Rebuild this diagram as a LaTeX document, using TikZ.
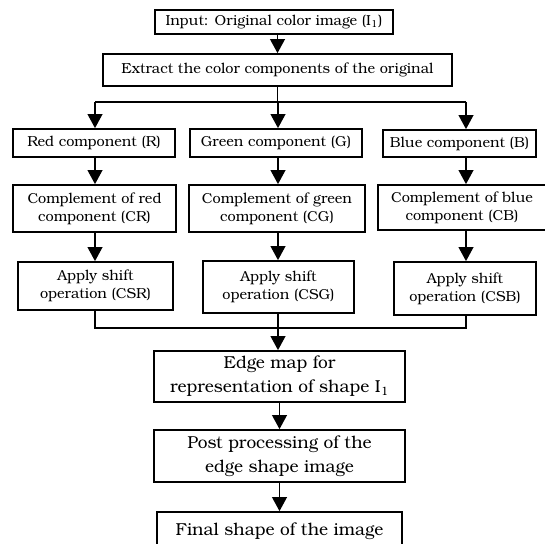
\documentclass[tikz,border=0pt]{standalone}
\usepackage{fontspec}
\setmainfont{TeX Gyre Bonum}
\usetikzlibrary{arrows.meta}

\newdimen\unitpx
\unitpx=0.025cm

\tikzset{
  box/.style={draw, line width=1.2pt, align=center, inner sep=0pt, font=\fontsize{10.3}{13}\selectfont},
  bigbox/.style={box, font=\fontsize{12.3}{17}\selectfont},
  line/.style={line width=1.2pt},
  arr/.style={line width=1.2pt, -{Triangle[width=10.5pt,length=10pt]}}
}

\begin{document}
\begin{tikzpicture}[x=0.025cm, y=-0.025cm]
        \useasboundingbox (0,0) rectangle (545,544);

        % top part
        \node[box, minimum width=238*\unitpx, minimum height=24*\unitpx] (in) at (274,22) {Input: Original color image (I\textsubscript{1})};
        \node[box, minimum width=349*\unitpx, minimum height=32*\unitpx] (ext) at (277.5,70) {Extract the color components of the original};

        \coordinate (sR) at (95,102);
        \coordinate (sG) at (278,102);
        \coordinate (sB) at (466,102);

        % three columns
        \node[box, minimum width=162*\unitpx, minimum height=28*\unitpx] (red) at (94,143) {Red component (R)};
        \node[box, minimum width=172*\unitpx, minimum height=28*\unitpx] (green) at (276,143) {Green component (G)};
        \node[box, minimum width=153*\unitpx, minimum height=27*\unitpx] (blue) at (459.5,143.5) {Blue component (B)};

        \node[box, minimum width=163*\unitpx, minimum height=47*\unitpx] (cr) at (94.5,208.5) {Complement of red\\component (CR)};
        \node[box, minimum width=176*\unitpx, minimum height=47*\unitpx] (cg) at (277,208.5) {Complement of green\\component (CG)};
        \node[box, minimum width=168*\unitpx, minimum height=45*\unitpx] (cb) at (462,207.5) {Complement of blue\\component (CB)};

        \node[box, minimum width=155*\unitpx, minimum height=48*\unitpx] (csr) at (95.5,286) {Apply shift\\operation (CSR)};
        \node[box, minimum width=151*\unitpx, minimum height=52*\unitpx] (csg) at (278.5,287) {Apply shift\\operation (CSG)};
        \node[box, minimum width=142*\unitpx, minimum height=53*\unitpx] (csb) at (465,288.5) {Apply shift\\operation (CSB)};

        \coordinate (mR) at (95,328);
        \coordinate (mG) at (278,328);
        \coordinate (mB) at (466,328);

        % bottom part
        \node[bigbox, minimum width=251*\unitpx, minimum height=51*\unitpx] (edge) at (279.5,376.5) {Edge map for\\representation of shape I\textsubscript{1}};
        \node[bigbox, minimum width=251*\unitpx, minimum height=52*\unitpx] (post) at (279.5,456) {Post processing of the\\edge shape image};
        \node[bigbox, minimum width=245*\unitpx, minimum height=38*\unitpx] (final) at (279.5,531) {Final shape of the image};

        \draw[arr] (ext.north |- in.south) -- (ext.north);
        \draw[line] (ext.south) -- (ext.south |- sG);
        \draw[line] (sR) -- (sB);
        \draw[arr] (sR) -- (sR |- red.north);
        \draw[arr] (sG) -- (sG |- green.north);
        \draw[arr] (sB) -- (sB |- blue.north);

        \draw[arr] (red.south -| sR) -- (cr.north -| sR);
        \draw[arr] (green.south -| sG) -- (cg.north -| sG);
        \draw[arr] (blue.south -| sB) -- (cb.north -| sB);
        \draw[arr] (cr.south -| sR) -- (csr.north -| sR);
        \draw[arr] (cg.south -| sG) -- (csg.north -| sG);
        \draw[arr] (cb.south -| sB) -- (csb.north -| sB);

        \draw[line] (csr.south -| mR) -- (mR) -- (mB) -- (csb.south -| mB);
        \draw[line] (csg.south -| mG) -- (mG);
        \draw[arr] (mG) -- (mG |- edge.north);
        \draw[arr] (edge.south) -- (post.north);
        \draw[arr] (post.south) -- (final.north);
      \end{tikzpicture}
\end{document}
